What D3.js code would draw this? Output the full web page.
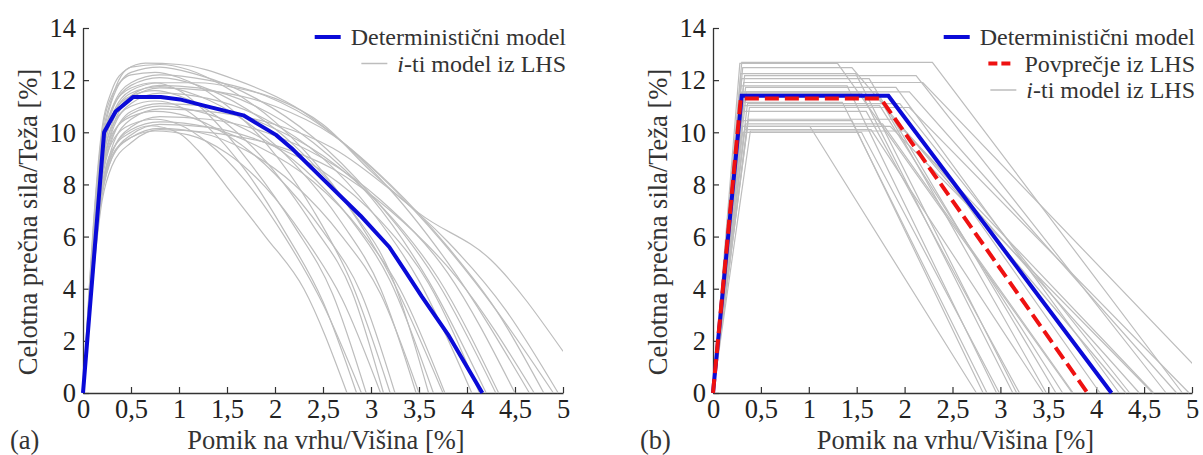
<!DOCTYPE html>
<meta charset="utf-8">
<script src="https://d3js.org/d3.v7.min.js"></script>
<style>
  body { margin: 0; background: #fff; }
  svg text { font-family: "Liberation Serif", "DejaVu Serif", serif; fill: #333; }
</style>
<div id="chart"></div>
<script>
// ---- data ----
var xTicks = [0, 0.5, 1, 1.5, 2, 2.5, 3, 3.5, 4, 4.5, 5];
var yTicks = [0, 2, 4, 6, 8, 10, 12, 14];

// (a) deterministic pushover curve
var detA = [[0,0],[0.22,10.0],[0.34,10.8],[0.52,11.35],[0.81,11.35],[1.01,11.26],[1.25,11.03],
  [1.67,10.65],[2.01,9.9],[2.17,9.4],[2.53,8.1],[2.89,6.8],[3.19,5.6],[3.37,4.6],[3.53,3.7],[3.81,2.2],[4.16,0]];

// (a) i-th LHS models
var lhsA = [
  [[0,0],[0.2,10.2],[0.3,11.6],[0.45,12.4],[0.65,12.65],[1.0,12.6],[1.6,12.0],[2.2,11.0],[2.9,9.0],[3.6,6.4],[4.3,3.2],[4.9,0]],
  [[0,0],[0.2,9.8],[0.3,11.3],[0.5,12.5],[0.8,12.6],[1.1,12.4],[1.5,11.7],[2.0,10.4],[2.6,8.0],[3.2,4.5],[3.75,0]],
  [[0,0],[0.2,9.6],[0.3,11.2],[0.5,12.3],[0.8,12.5],[1.2,12.2],[1.8,11.3],[2.4,9.8],[3.0,7.6],[3.7,4.2],[4.3,0]],
  [[0,0],[0.2,10.0],[0.3,11.4],[0.5,12.2],[0.75,12.3],[1.0,12.1],[1.4,11.3],[1.9,9.6],[2.4,7.0],[2.8,4.2],[3.2,0]],
  [[0,0],[0.2,9.4],[0.3,10.9],[0.5,11.9],[0.8,12.2],[1.3,12.0],[1.9,11.4],[2.5,10.2],[3.1,8.2],[3.8,5.0],[4.65,0]],
  [[0,0],[0.2,9.2],[0.3,10.8],[0.5,11.8],[0.8,12.1],[1.2,11.8],[1.7,10.9],[2.2,9.5],[2.8,7.0],[3.2,4.6],[3.6,0]],
  [[0,0],[0.2,9.0],[0.3,10.6],[0.5,11.6],[0.8,11.9],[1.2,11.9],[1.6,11.7],[2.0,11.3],[2.5,10.3],[3.0,8.5],[3.5,6.9],[4.25,5.1],[5.0,1.6]],
  [[0,0],[0.2,9.5],[0.3,10.9],[0.5,11.7],[0.75,11.9],[1.0,11.6],[1.3,10.7],[1.7,9.0],[2.2,6.4],[2.6,3.8],[2.95,0]],
  [[0,0],[0.2,8.8],[0.3,10.3],[0.5,11.4],[0.8,11.8],[1.2,11.7],[1.8,11.0],[2.4,9.6],[3.0,7.5],[3.6,4.3],[4.2,0]],
  [[0,0],[0.2,9.0],[0.3,10.5],[0.5,11.5],[0.8,11.75],[1.2,11.4],[1.7,10.4],[2.2,8.8],[2.7,6.5],[3.1,4.0],[3.47,0]],
  [[0,0],[0.2,8.6],[0.3,10.1],[0.5,11.3],[0.8,11.7],[1.3,11.6],[2.0,11.0],[2.6,9.9],[3.2,8.0],[3.8,5.6],[4.3,3.2],[4.8,0]],
  [[0,0],[0.2,9.2],[0.3,10.6],[0.5,11.4],[0.75,11.6],[1.0,11.4],[1.4,10.6],[1.9,8.9],[2.4,6.4],[2.8,3.9],[3.13,0]],
  [[0,0],[0.2,8.5],[0.3,10.0],[0.5,11.1],[0.8,11.5],[1.3,11.3],[1.9,10.5],[2.5,9.0],[3.0,7.0],[3.5,4.3],[4.05,0]],
  [[0,0],[0.2,8.8],[0.3,10.2],[0.5,11.0],[0.75,11.2],[1.0,11.0],[1.3,10.2],[1.7,8.5],[2.1,6.2],[2.5,3.5],[2.85,0]],
  [[0,0],[0.2,8.2],[0.3,9.7],[0.5,10.8],[0.8,11.1],[1.3,11.0],[1.9,10.3],[2.5,9.1],[3.1,7.2],[3.7,4.4],[4.33,0]],
  [[0,0],[0.2,8.4],[0.3,9.8],[0.5,10.7],[0.8,11.0],[1.2,10.8],[1.7,10.1],[2.3,8.6],[2.8,6.6],[3.2,4.3],[3.65,0]],
  [[0,0],[0.2,7.9],[0.3,9.4],[0.5,10.5],[0.8,10.9],[1.3,10.8],[2.0,10.3],[2.6,9.4],[3.2,7.8],[3.8,5.8],[4.4,3.2],[4.95,0]],
  [[0,0],[0.2,8.6],[0.3,9.9],[0.5,10.6],[0.75,10.8],[1.1,10.6],[1.5,9.9],[2.0,8.4],[2.5,6.2],[2.9,3.8],[3.25,0]],
  [[0,0],[0.2,7.8],[0.3,9.2],[0.5,10.2],[0.8,10.6],[1.3,10.5],[1.9,10.0],[2.5,9.0],[3.1,7.4],[3.8,4.6],[4.5,0]],
  [[0,0],[0.2,8.4],[0.3,9.6],[0.5,10.3],[0.75,10.5],[1.0,10.3],[1.3,9.6],[1.7,8.1],[2.1,6.0],[2.5,3.4],[2.9,0]],
  [[0,0],[0.2,7.9],[0.3,9.2],[0.5,10.1],[0.8,10.4],[1.3,10.2],[1.8,9.5],[2.4,8.1],[2.9,6.2],[3.3,4.0],[3.77,0]],
  [[0,0],[0.2,7.6],[0.3,9.0],[0.5,9.9],[0.8,10.3],[1.3,10.2],[1.9,9.6],[2.5,8.5],[3.1,6.6],[3.6,4.2],[4.13,0]],
  [[0,0],[0.2,8.0],[0.3,9.3],[0.5,10.0],[0.7,10.25],[1.0,9.96],[1.2,9.3],[1.5,7.9],[1.9,6.0],[2.3,4.0],[2.75,0]],
  [[0,0],[0.2,7.7],[0.3,9.0],[0.5,9.8],[0.8,10.15],[1.2,10.0],[1.7,9.3],[2.2,8.0],[2.7,6.0],[3.1,3.8],[3.5,0]],
  [[0,0],[0.2,7.4],[0.3,8.7],[0.5,9.6],[0.8,10.1],[1.3,10.0],[2.0,9.5],[2.6,8.6],[3.2,7.0],[3.9,4.4],[4.7,0]],
  [[0,0],[0.2,7.8],[0.3,9.1],[0.5,9.8],[0.75,10.05],[1.1,9.9],[1.5,9.2],[1.9,7.9],[2.3,6.0],[2.7,3.6],[3.1,0]]
];

// (b) trilinear idealisation: deterministic and LHS mean
var detB  = [[0,0],[0.30,11.4],[1.83,11.4],[4.16,0]];
var meanB = [[0,0],[0.29,11.3],[1.75,11.3],[3.91,0]];

// (b) i-th LHS models: yield force, yield disp., end of plateau, ultimate disp.
var lhsFy = [12.68,12.64,12.48,12.25,12.17,12.06,11.91,11.78,11.72,11.55,11.55,11.50,11.45,
             11.15,11.10,11.02,10.95,10.80,10.50,10.45,10.32,10.23,10.23,10.10,10.05,10.00];
var lhsDy = [0.30,0.28,0.31,0.29,0.33,0.30,0.32,0.29,0.34,0.30,0.35,0.29,0.33,
             0.28,0.36,0.31,0.38,0.30,0.37,0.29,0.34,0.36,0.30,0.33,0.39,0.31];
var lhsDc = [2.29,1.30,1.45,1.49,2.12,1.63,2.19,1.40,1.91,1.70,2.05,1.55,1.84,
             1.35,1.95,1.74,2.05,1.60,1.90,1.45,1.77,1.85,1.01,1.65,2.00,1.55];
var lhsDu = [4.90,3.75,4.31,3.17,4.73,3.58,5.30,2.96,4.24,3.48,4.84,3.13,4.04,
             2.86,4.35,3.65,4.97,3.20,4.45,2.82,3.76,4.59,2.75,3.45,4.60,2.99];

// ---- layout ----
var W = 1203, H = 455;
var FS = 26.5, LFS = 24;
var svg = d3.select("#chart").append("svg").attr("width", W).attr("height", H);

var fmt = function(d) { return String(d).replace(".", ","); };

function panel(x0, x1, tag, id) {
  var x = d3.scaleLinear().domain([0, 5]).range([x0, x1]);
  var y = d3.scaleLinear().domain([0, 14]).range([393, 28]);
  var g = svg.append("g");

  g.append("clipPath").attr("id", id)
    .append("rect").attr("x", x0 - 3).attr("y", 0).attr("width", x1 - x0 + 3).attr("height", 396);

  // axes (ticks pointing inward)
  var ax = g.append("g").attr("transform", "translate(0,393)")
    .call(d3.axisBottom(x).tickValues(xTicks).tickFormat(fmt).tickSize(-6).tickSizeOuter(0).tickPadding(7));
  var ay = g.append("g").attr("transform", "translate(" + x0 + ",0)")
    .call(d3.axisLeft(y).tickValues(yTicks).tickSize(-6).tickSizeOuter(0).tickPadding(7));
  [ax, ay].forEach(function(a) {
    a.attr("font-family", null).attr("font-size", null);
    a.select(".domain").attr("stroke", "#333").attr("stroke-width", 1.3);
    a.selectAll(".tick line").attr("stroke", "#333").attr("stroke-width", 1.2);
    a.selectAll("text").style("font-size", FS + "px").style("fill", "#222");
  });
  ax.selectAll("text").attr("dy", "0.68em");
  ay.selectAll("text").attr("dy", "0.33em");

  g.append("text").attr("x", (x0 + x1) / 2 + 3).attr("y", 449).attr("text-anchor", "middle")
    .style("font-size", FS + "px").text("Pomik na vrhu/Višina [%]");
  g.append("text").attr("x", x0 - 73).attr("y", 449).style("font-size", FS + "px").text(tag);
  g.append("text").attr("transform", "translate(" + (x0 - 46) + ",222) rotate(-90)")
    .attr("text-anchor", "middle").style("font-size", FS + "px").text("Celotna prečna sila/Teža [%]");

  var plot = g.append("g").attr("clip-path", "url(#" + id + ")");
  return { x: x, y: y, g: g, plot: plot, x1: x1 };
}

// legend rows, text right-aligned to the plot edge, sample line left of the text
function legend(p, items) {
  var lg = p.g.append("g");
  items.forEach(function(it, i) {
    var yy = 37 + i * 26.5;
    var t = lg.append("text").attr("x", p.x1 + 3).attr("y", yy + 8).attr("text-anchor", "end")
      .style("font-size", LFS + "px");
    if (it.italic) {
      t.append("tspan").attr("font-style", "italic").text(it.italic);
      t.append("tspan").text(it.label);
    } else {
      t.text(it.label);
    }
    var start = p.x1 + 3 - t.node().getComputedTextLength();
    lg.append("line").attr("x1", start - 36).attr("x2", start - 10).attr("y1", yy).attr("y2", yy)
      .attr("stroke", it.color).attr("stroke-width", it.width).attr("stroke-dasharray", it.dash || null);
  });
}

var GRAY = "#bdbdbd", BLUE = "#0a0ad8", RED = "#ee1111";

// ---- panel (a) ----
var a = panel(83, 563, "(a)", "clipA");
var smooth = d3.line().x(function(d) { return a.x(d[0]); }).y(function(d) { return a.y(d[1]); })
  .curve(d3.curveMonotoneX);
var straightA = d3.line().x(function(d) { return a.x(d[0]); }).y(function(d) { return a.y(d[1]); });

a.plot.selectAll(".lhs").data(lhsA).enter().append("path")
  .attr("d", smooth).attr("fill", "none").attr("stroke", GRAY).attr("stroke-width", 1.2);
a.plot.append("path").datum(detA).attr("d", straightA).attr("fill", "none")
  .attr("stroke", BLUE).attr("stroke-width", 4).attr("stroke-linejoin", "round");

legend(a, [
  { label: "Deterministični model", color: BLUE, width: 4 },
  { italic: "i", label: "-ti model iz LHS", color: GRAY, width: 1.5 }
]);

// ---- panel (b) ----
var b = panel(713, 1192, "(b)", "clipB");
var lineB = d3.line().x(function(d) { return b.x(d[0]); }).y(function(d) { return b.y(d[1]); });

var lhsB = lhsFy.map(function(f, i) {
  return [[0, 0], [lhsDy[i], f], [lhsDc[i], f], [lhsDu[i], 0]];
});
b.plot.selectAll(".lhs").data(lhsB).enter().append("path")
  .attr("d", lineB).attr("fill", "none").attr("stroke", GRAY).attr("stroke-width", 1.2);
b.plot.append("path").datum(detB).attr("d", lineB).attr("fill", "none")
  .attr("stroke", BLUE).attr("stroke-width", 4);
b.plot.append("path").datum(meanB).attr("d", lineB).attr("fill", "none")
  .attr("stroke", RED).attr("stroke-width", 4).attr("stroke-dasharray", "14,6");

legend(b, [
  { label: "Deterministični model", color: BLUE, width: 4 },
  { label: "Povprečje iz LHS", color: RED, width: 4, dash: "9,4" },
  { italic: "i", label: "-ti model iz LHS", color: GRAY, width: 1.5 }
]);
</script>
